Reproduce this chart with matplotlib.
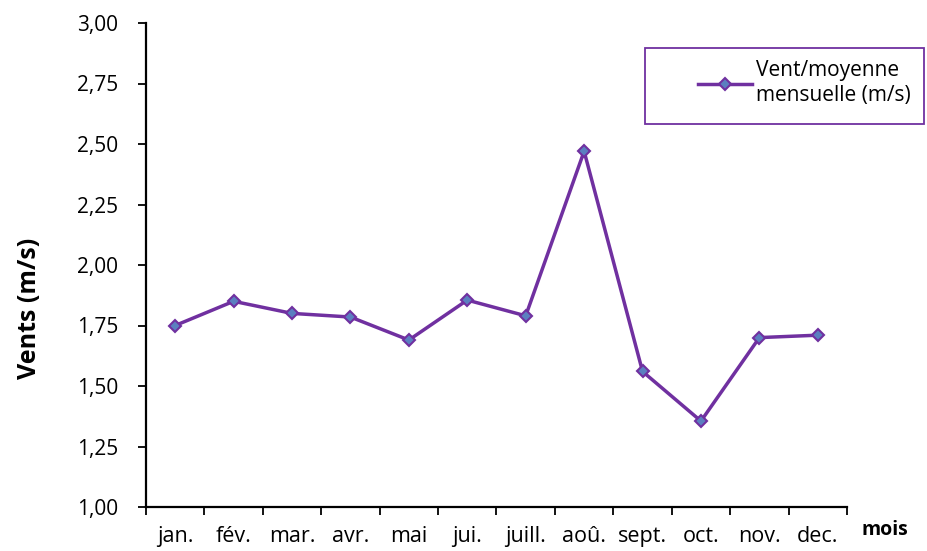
import numpy as np
import matplotlib
matplotlib.use("Agg")
import matplotlib.pyplot as plt
from matplotlib.patches import Rectangle

months = ["jan.", "fév.", "mar.", "avr.", "mai", "jui.", "juill.", "aoû.",
          "sept.", "oct.", "nov.", "dec."]
wind = [1.75, 1.85, 1.80, 1.785, 1.69, 1.855, 1.79, 2.47, 1.56, 1.355, 1.70, 1.71]
yticks = [1.00, 1.25, 1.50, 1.75, 2.00, 2.25, 2.50, 2.75, 3.00]

PURPLE = "#7030A0"
W, H = 928, 551
plt.rcParams["font.family"] = ["Open Sans", "DejaVu Sans"]

fig = plt.figure(figsize=(W / 100, H / 100), dpi=100)
ax = fig.add_axes([146 / W, 44 / H, 701 / W, 484 / H])

x = np.arange(len(months))
ax.plot(x, wind, color=PURPLE, lw=2.5, marker="D", ms=6,
        mfc="#5B7FC0", mec=PURPLE, mew=1.5, label="Vent/moyenne\nmensuelle (m/s)")

ax.set_xlim(-0.5, len(months) - 0.5)
ax.set_ylim(1.0, 3.0)
ax.set_yticks(yticks)
ax.set_yticklabels([f"{v:.2f}".replace(".", ",") for v in yticks], fontsize=15)
ax.set_xticks(np.arange(-0.5, len(months)), labels=[""] * (len(months) + 1))
ax.set_xticks(x, labels=months, minor=True)
ax.tick_params(axis="x", which="minor", length=0, pad=14, labelsize=15.5)
ax.tick_params(axis="x", which="major", length=6, width=1.3, direction="out")
ax.tick_params(axis="y", length=6, width=1.3, direction="out", pad=14)

for s in ("top", "right"):
    ax.spines[s].set_visible(False)
for s in ("left", "bottom"):
    ax.spines[s].set_linewidth(1.6)

fig.text(30 / W, 1 - 308 / H, "Vents (m/s)", rotation=90, ha="center", va="center",
         fontsize=18, fontweight="bold")
fig.text(885 / W, 1 - 530 / H, "mois", ha="center", va="center",
         fontsize=14, fontweight="bold")

# legend box drawn by hand so it sits where the source has it
fig.patches.append(Rectangle((645 / W, 1 - 124 / H), 279 / W, 76 / H,
                             transform=fig.transFigure, fill=False,
                             edgecolor=PURPLE, lw=1.3))
leg = fig.legend(loc="upper left", bbox_to_anchor=(690 / W, 1 - 52 / H), fontsize=15,
                 frameon=False, handlelength=2.6, borderaxespad=0,
                 handletextpad=0.15, labelspacing=0.1)

fig.savefig("out.png", dpi=100)
